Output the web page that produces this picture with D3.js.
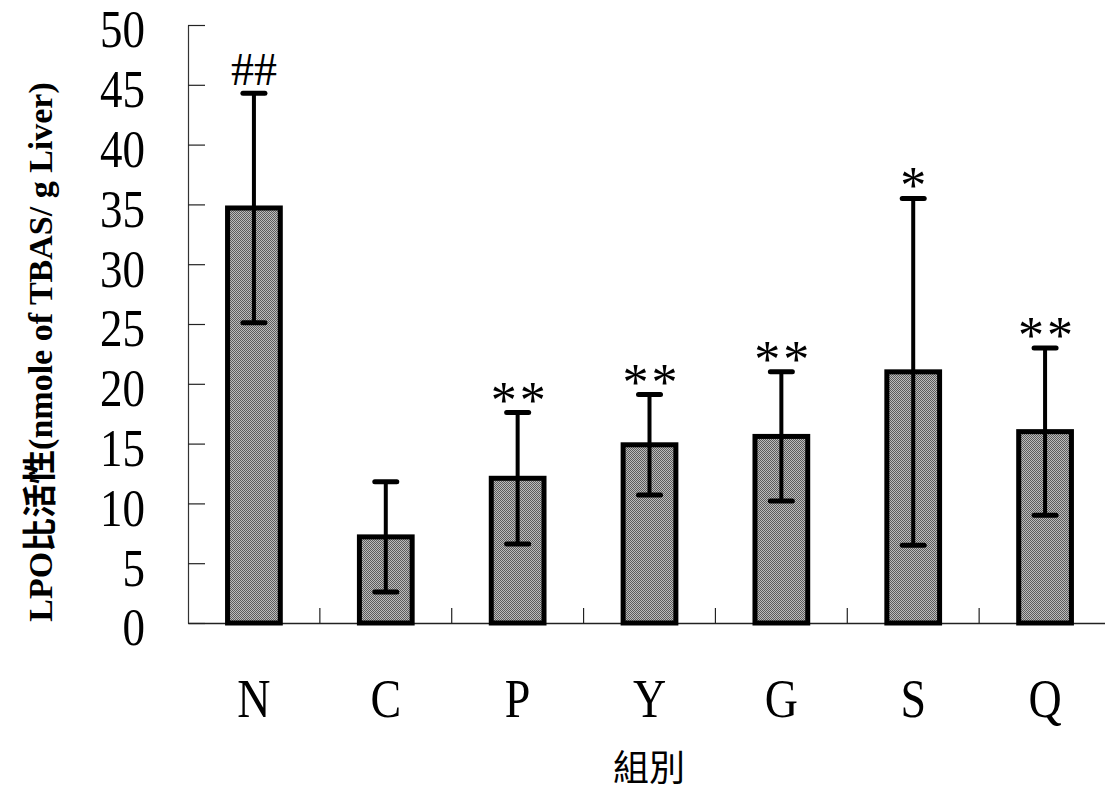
<!DOCTYPE html>
<html>
<head>
<meta charset="utf-8">
<script src="https://cdn.jsdelivr.net/npm/d3@7"></script>
<style>
  body { margin: 0; background: #fff; }
  svg { display: block; }
</style>
</head>
<body>
<svg id="chart" width="1105" height="791"></svg>
<script>
(function() {
    const groups = ["N", "C", "P", "Y", "G", "S", "Q"];
    const means = [34.7, 7.2, 12.1, 14.9, 15.6, 21.0, 16.0];
    const sds = [9.6, 4.6, 5.5, 4.2, 5.4, 14.5, 7.0];
    const marks = ["##", "", "**", "**", "**", "*", "**"];
    const yTicks = [0, 5, 10, 15, 20, 25, 30, 35, 40, 45, 50];

    const left = 188, right = 1111, top = 25, bottom = 623;

    const serif = "'Liberation Serif', 'Times New Roman', serif";
    const cjk = "'Liberation Serif', 'Noto Sans CJK TC', serif";

    const svg = d3.select("#chart");

    // dithered grey like the scanned print
    const pat = svg.append("defs").append("pattern")
        .attr("id", "dots")
        .attr("width", 2).attr("height", 2)
        .attr("patternUnits", "userSpaceOnUse");
    pat.append("rect").attr("width", 2).attr("height", 2).attr("fill", "#bcbcbc");
    pat.append("rect").attr("width", 1).attr("height", 1).attr("fill", "#5c5c5c");
    pat.append("rect").attr("x", 1).attr("y", 1).attr("width", 1).attr("height", 1).attr("fill", "#5c5c5c");

    const x = d3.scaleBand()
        .domain(groups)
        .range([left, right])
        .paddingInner(0.6)
        .paddingOuter(0.3);

    const y = d3.scaleLinear()
        .domain([0, 50])
        .range([bottom, top]);

    const data = groups.map((g, i) => ({ g: g, mean: means[i], sd: sds[i], mark: marks[i] }));

    // y axis: ticks point into the plot, labels well to the left
    const yAxis = svg.append("g")
        .attr("transform", `translate(${left},0)`)
        .call(d3.axisLeft(y)
            .tickValues(yTicks)
            .tickSizeInner(-17)
            .tickSizeOuter(0)
            .tickPadding(43));
    yAxis.select(".domain").attr("stroke", "#333").attr("stroke-width", 1.2);
    yAxis.selectAll(".tick line").attr("stroke", "#222").attr("stroke-width", 1.2);
    yAxis.selectAll(".tick text")
        .attr("font-family", serif)
        .attr("font-size", 45)
        .attr("fill", "#000")
        .attr("transform", "translate(0,5) scale(1,1.18)");

    // x axis
    const xAxis = svg.append("g")
        .attr("transform", `translate(0,${bottom})`)
        .call(d3.axisBottom(x).tickSize(0).tickPadding(0));
    xAxis.select(".domain").attr("stroke", "#222").attr("stroke-width", 1.4);
    xAxis.selectAll(".tick text")
        .attr("font-family", serif)
        .attr("font-size", 46)
        .attr("fill", "#000")
        .attr("y", 94 / 1.2)
        .attr("dy", 0)
        .attr("transform", "scale(1,1.2)");

    // small separators between groups
    svg.append("g").selectAll("line")
        .data(d3.range(1, groups.length + 1))
        .enter().append("line")
        .attr("x1", i => x.range()[0] + i * x.step())
        .attr("x2", i => x.range()[0] + i * x.step())
        .attr("y1", y(0))
        .attr("y2", y(0) - 15)
        .attr("stroke", "#222")
        .attr("stroke-width", 1.2);

    // bars
    svg.append("g").selectAll("rect")
        .data(data)
        .enter().append("rect")
        .attr("x", d => x(d.g))
        .attr("y", d => y(d.mean))
        .attr("width", x.bandwidth())
        .attr("height", d => y(0) - y(d.mean))
        .attr("fill", "url(#dots)")
        .attr("stroke", "#000")
        .attr("stroke-width", 5);

    // error bars
    const cx = d => x(d.g) + x.bandwidth() / 2;
    const eb = svg.append("g").selectAll("g")
        .data(data)
        .enter().append("g");
    eb.append("line")
        .attr("x1", cx).attr("x2", cx)
        .attr("y1", d => y(d.mean + d.sd))
        .attr("y2", d => y(d.mean - d.sd))
        .attr("stroke", "#000")
        .attr("stroke-width", 4);
    eb.selectAll("line.cap")
        .data(d => [{ d: d, v: d.mean + d.sd }, { d: d, v: d.mean - d.sd }])
        .enter().append("line")
        .attr("class", "cap")
        .attr("x1", e => cx(e.d) - 11)
        .attr("x2", e => cx(e.d) + 11)
        .attr("y1", e => y(e.v))
        .attr("y2", e => y(e.v))
        .attr("stroke", "#000")
        .attr("stroke-width", 5)
        .attr("stroke-linecap", "round");

    // significance marks
    svg.append("g").selectAll("text")
        .data(data.filter(d => d.mark))
        .enter().append("text")
        .attr("x", d => cx(d) + (d.mark === "**" ? 2 : 0))
        .attr("y", d => d.mark === "##" ? y(d.mean + d.sd) - 8 : y(d.mean + d.sd) + 5)
        .attr("text-anchor", "middle")
        .attr("font-family", serif)
        .attr("font-size", d => d.mark === "##" ? 46 : 52)
        .attr("letter-spacing", d => d.mark === "**" ? 3 : 0)
        .attr("fill", "#000")
        .text(d => d.mark);

    // axis titles
    svg.append("text")
        .attr("transform", `translate(52,352) rotate(-90)`)
        .attr("text-anchor", "middle")
        .attr("font-family", cjk)
        .attr("font-weight", "bold")
        .attr("font-size", 34)
        .attr("fill", "#000")
        .text("LPO比活性(nmole of TBAS/ g Liver)");

    svg.append("text")
        .attr("x", 649)
        .attr("y", 781)
        .attr("text-anchor", "middle")
        .attr("font-family", "'Noto Sans CJK TC', sans-serif")
        .attr("font-size", 36)
        .attr("fill", "#000")
        .text("組別");
})();
</script>
</body>
</html>
